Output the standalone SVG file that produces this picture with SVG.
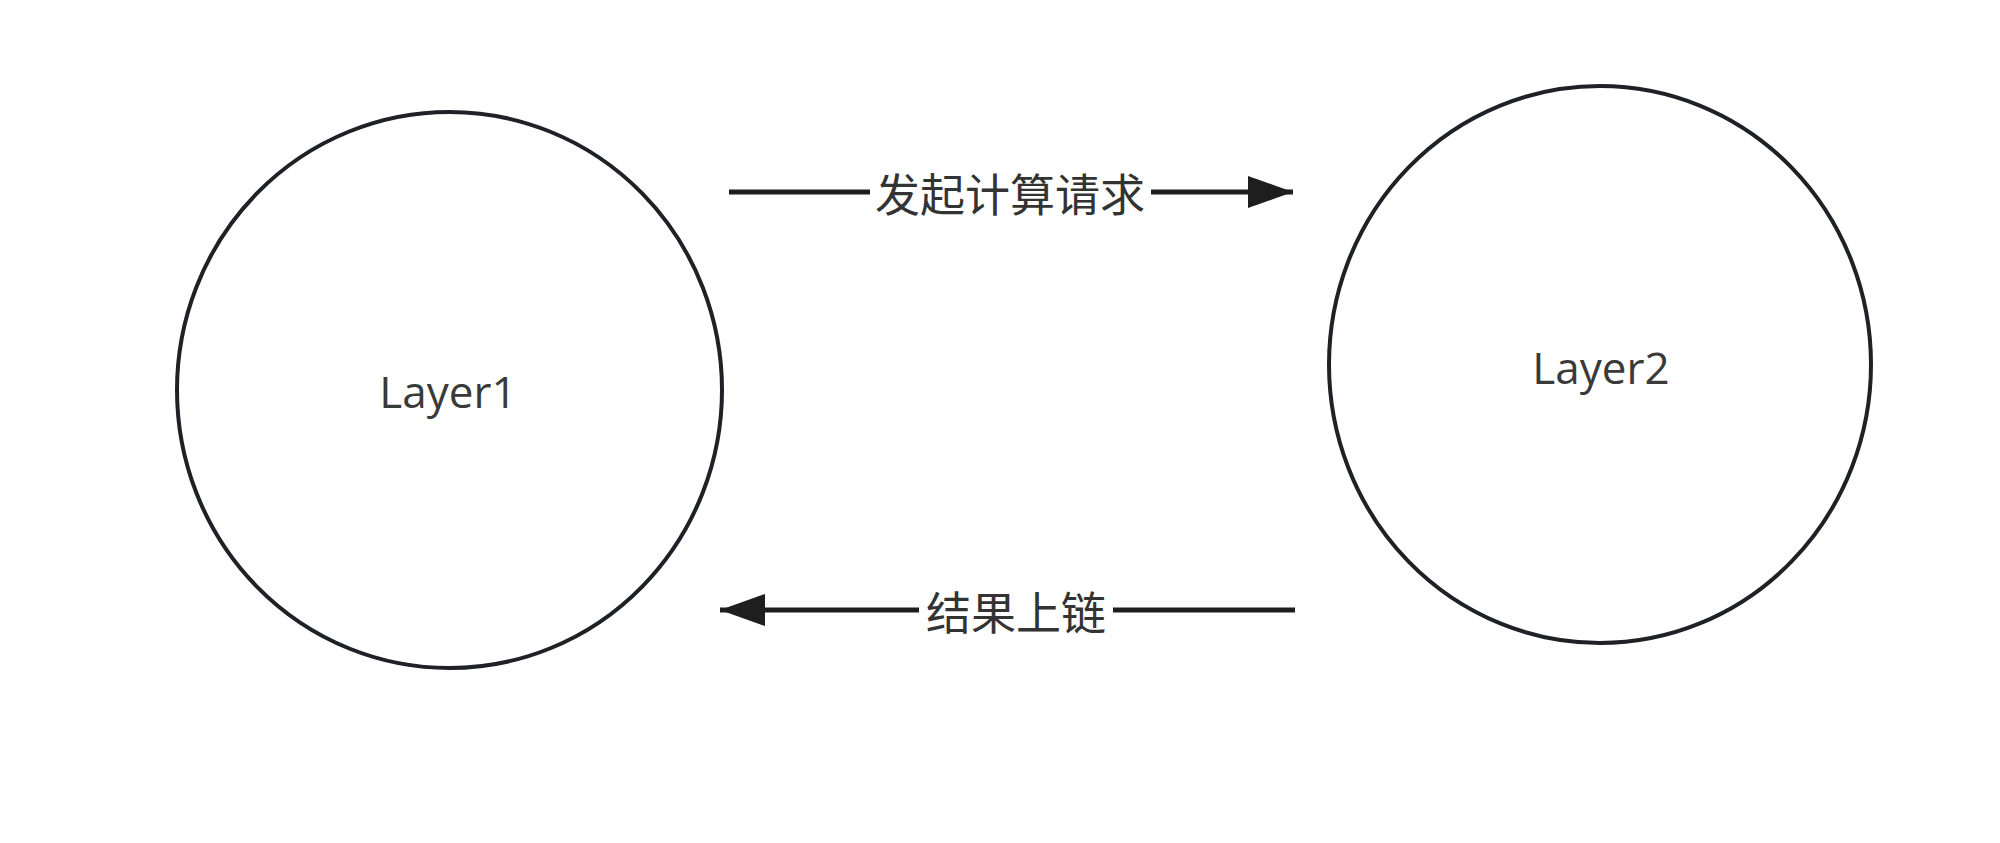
<svg xmlns="http://www.w3.org/2000/svg" width="2000" height="843" viewBox="0 0 2000 843">
  <style>
    .node { fill: #ffffff; stroke: #1e2226; stroke-width: 4; }
    .nlabel { font-family: "Open Sans", "Noto Sans", sans-serif; font-size: 44px; fill: #3a3a3a; text-anchor: middle; }
    .edge { stroke: #1e1e1e; stroke-width: 5; fill: none; }
    .elabel { font-family: "Noto Sans CJK SC", "Noto Sans", sans-serif; font-size: 45px; fill: #333333; text-anchor: middle; }
  </style>
  <defs>
    <marker id="arrow" markerUnits="userSpaceOnUse" markerWidth="46" markerHeight="36" refX="45" refY="18" orient="auto">
      <path d="M0,2 L45,18 L0,34 Z" fill="#1e1e1e"/>
    </marker>
  </defs>
  <rect width="2000" height="843" fill="#ffffff"/>
  <g id="layer1">
    <ellipse class="node" cx="449.5" cy="390" rx="272.5" ry="278"/>
    <text class="nlabel" x="448" y="408">Layer1</text>
  </g>
  <g id="layer2">
    <ellipse class="node" cx="1600" cy="364.5" rx="271" ry="278.5"/>
    <text class="nlabel" x="1601" y="384">Layer2</text>
  </g>
  <g id="connectors">
    <g id="edge-request">
      <line class="edge" x1="729" y1="192" x2="1293" y2="192" marker-end="url(#arrow)"/>
      <rect x="870" y="167" width="281" height="60" fill="#ffffff"/>
      <text class="elabel" x="1010" y="212">发起计算请求</text>
    </g>
    <g id="edge-result">
      <line class="edge" x1="1295" y1="610" x2="720" y2="610" marker-end="url(#arrow)"/>
      <rect x="919" y="585" width="194" height="60" fill="#ffffff"/>
      <text class="elabel" x="1016" y="630">结果上链</text>
    </g>
  </g>
</svg>
